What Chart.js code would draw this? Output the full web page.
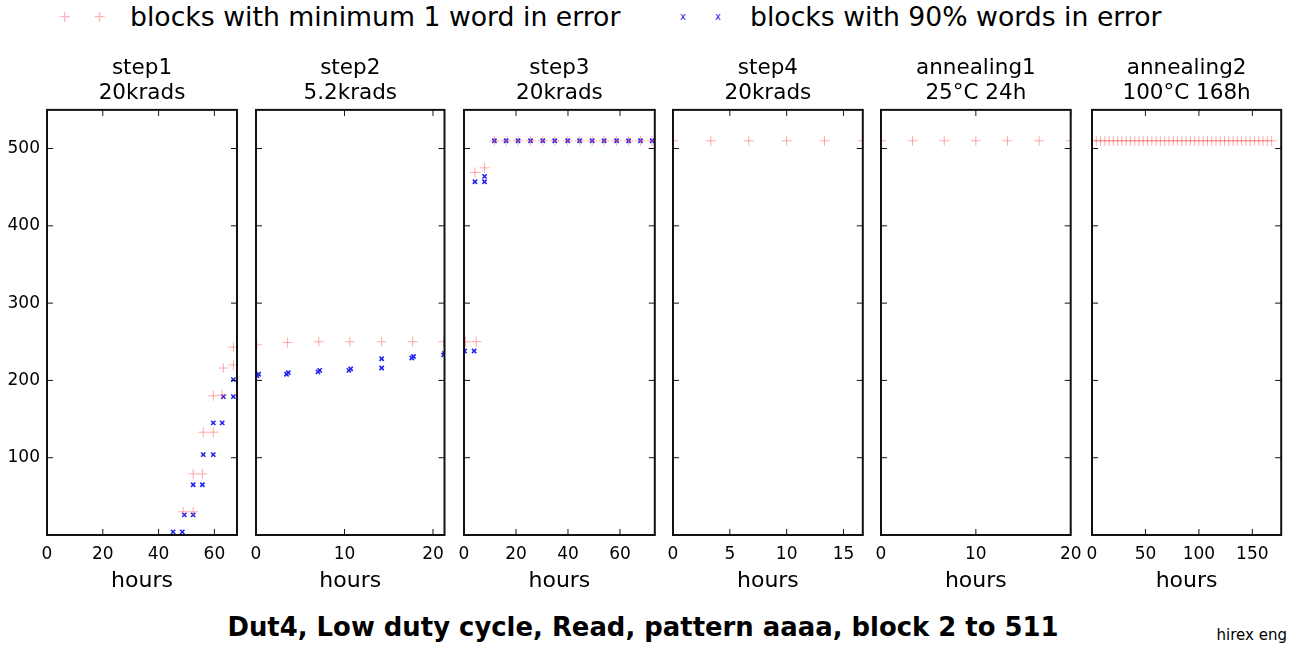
<!DOCTYPE html>
<html>
<head>
<meta charset="utf-8">
<script src="https://cdn.jsdelivr.net/npm/chart.js@4.4.1/dist/chart.umd.min.js"></script>
<style>
  body { margin: 0; background: #fff; font-family: "DejaVu Sans", sans-serif; }
  #wrap { position: relative; width: 1289px; height: 645px; overflow: hidden; }
  #wrap canvas { position: absolute; }
  .lbl { position: absolute; white-space: nowrap; color: #000; }
</style>
</head>
<body>
<div id="wrap">
  <span class="lbl" style="left:58px; top:3px; font-size:16px; line-height:28px; color:rgba(255,90,90,0.45)">+</span>
  <span class="lbl" style="left:93px; top:3px; font-size:16px; line-height:28px; color:rgba(255,90,90,0.45)">+</span>
  <span class="lbl" style="left:130px; top:2px; font-size:26.7px; line-height:30px">blocks with minimum 1 word in error</span>
  <span class="lbl" style="left:680px; top:3px; font-size:10px; line-height:28px; color:#2222ee">x</span>
  <span class="lbl" style="left:715px; top:3px; font-size:10px; line-height:28px; color:#2222ee">x</span>
  <span class="lbl" style="left:750px; top:2px; font-size:26.7px; line-height:30px">blocks with 90% words in error</span>
  <div class="lbl" style="left:0; top:611px; width:1286px; text-align:center; font-size:25.9px; font-weight:bold; line-height:32px">Dut4, Low duty cycle, Read, pattern aaaa, block 2 to 511</div>
  <span class="lbl" style="right:2px; top:626px; font-size:15px; line-height:18px">hirex eng</span>
</div>
<script>
// panel titles and axis ranges
const panelTitles = [
  ['step1', '20krads'],
  ['step2', '5.2krads'],
  ['step3', '20krads'],
  ['step4', '20krads'],
  ['annealing1', '25°C 24h'],
  ['annealing2', '100°C 168h']
];
const xMax = [68.1, 21.3, 73.4, 16.7, 20, 177];
const xTickValues = [[0, 20, 40, 60], [0, 10, 20], [0, 20, 40, 60], [0, 5, 10, 15], [0, 10, 20], [0, 50, 100, 150]];
const yTicks = [100, 200, 300, 400, 500];

// blocks with minimum 1 word in error
const minHours1 = [48.8, 52.4, 52.4, 55.7, 56.0, 59.6, 59.6, 62.8, 63.2, 66.8, 66.8];
const minBlocks1 = [30, 30, 79, 79, 133, 133, 180, 181, 216, 220, 243];
const minHours2 = [0.1, 3.55, 7.1, 10.6, 14.2, 17.7, 21.2];
const minBlocks2 = [246, 249, 250, 250, 250, 250, 250];
const minHours3 = [0.6, 4.7, 4.2, 7.9, 11.7, 16.2, 20.8, 25.6, 30.3, 34.9, 39.9, 44.5, 49.3, 53.9, 58.7, 63.3, 67.9, 72.4];
const minBlocks3 = [250, 250, 469, 475, 510, 510, 510, 510, 510, 510, 510, 510, 510, 510, 510, 510, 510, 510];
const minHours4 = [0, 3.33, 6.67, 10, 13.33, 16.67];
const minBlocks4 = [510, 510, 510, 510, 510, 510];
const minHours5 = [0, 3.33, 6.67, 10, 13.33, 16.67, 20];
const minBlocks5 = [510, 510, 510, 510, 510, 510, 510];
const minHours6 = [0, 4, 8, 12, 16, 20, 24, 28, 32, 36, 40, 44, 48, 52, 56, 60, 64, 68, 72, 76, 80, 84,
  88, 92, 96, 100, 104, 108, 112, 116, 120, 124, 128, 132, 136, 140, 144, 148, 152, 156, 160, 164, 168];
const minBlocks6 = [510, 510, 510, 510, 510, 510, 510, 510, 510, 510, 510, 510, 510, 510, 510, 510, 510, 510,
  510, 510, 510, 510, 510, 510, 510, 510, 510, 510, 510, 510, 510, 510, 510, 510, 510, 510, 510, 510, 510,
  510, 510, 510, 510];

// blocks with 90% words in error
const ninetyHours1 = [45.2, 48.5, 49.2, 52.4, 52.4, 55.7, 56.0, 59.6, 59.6, 62.8, 63.2, 66.8, 66.8];
const ninetyBlocks1 = [4, 4, 26, 26, 65, 65, 104, 104, 145, 145, 179, 179, 201];
const ninetyHours2 = [0.1, 0.3, 3.45, 3.65, 7.0, 7.2, 10.5, 10.7, 14.2, 14.2, 17.6, 17.8, 21.2, 21.3];
const ninetyBlocks2 = [206, 208, 208, 210, 211, 213, 213, 215, 216, 228, 229, 231, 233, 235];
const ninetyHours3 = [0.2, 3.9, 4.2, 7.9, 7.9, 11.7, 16.2, 20.8, 25.6, 30.3, 34.9, 39.9, 44.5, 49.3, 53.9, 58.7, 63.3, 67.9, 72.4];
const ninetyBlocks3 = [238, 238, 457, 457, 464, 510, 510, 510, 510, 510, 510, 510, 510, 510, 510, 510, 510, 510, 510];

const minSeries = [[minHours1, minBlocks1], [minHours2, minBlocks2], [minHours3, minBlocks3],
  [minHours4, minBlocks4], [minHours5, minBlocks5], [minHours6, minBlocks6]];
const ninetySeries = [[ninetyHours1, ninetyBlocks1], [ninetyHours2, ninetyBlocks2], [ninetyHours3, ninetyBlocks3],
  [[], []], [[], []], [[], []]];

// layout of the plot boxes in the page
const plotLeft = [47, 256, 463.5, 672.5, 881, 1091.5];
const plotRight = [237, 444.5, 654.3, 862.3, 1070.7, 1280.7];
const FONT = '"DejaVu Sans", sans-serif';

const toPoints = (xs, ys) => xs.map((x, i) => ({x: x, y: ys[i]}));

// matplotlib style frame with inward ticks on all four sides
const framePlugin = {
  id: 'frame',
  afterDatasetsDraw(chart) {
    const {ctx, chartArea: a, scales: {x, y}} = chart;
    ctx.save();
    ctx.strokeStyle = '#111';
    ctx.lineWidth = 1;
    ctx.beginPath();
    x.ticks.forEach(t => {
      const px = x.getPixelForValue(t.value);
      ctx.moveTo(px, a.bottom); ctx.lineTo(px, a.bottom - 6);
      ctx.moveTo(px, a.top); ctx.lineTo(px, a.top + 6);
    });
    y.ticks.forEach(t => {
      const py = y.getPixelForValue(t.value);
      ctx.moveTo(a.left, py); ctx.lineTo(a.left + 6, py);
      ctx.moveTo(a.right, py); ctx.lineTo(a.right - 6, py);
    });
    ctx.stroke();
    ctx.lineWidth = 2;
    ctx.strokeRect(a.left, a.top, a.right - a.left, a.bottom - a.top);
    ctx.restore();
  }
};

const wrap = document.getElementById('wrap');
const TOP = 50, HEIGHT = 550, RIGHT_PAD = 14;

panelTitles.forEach((title, i) => {
  const yWidth = i === 0 ? plotLeft[0] : 14;
  const left = plotLeft[i] - yWidth;
  const width = Math.ceil(plotRight[i] - left + RIGHT_PAD);
  const canvas = document.createElement('canvas');
  canvas.width = width;
  canvas.height = HEIGHT;
  canvas.style.left = left + 'px';
  canvas.style.top = TOP + 'px';
  wrap.appendChild(canvas);
  const padRight = width - (plotRight[i] - left);

  new Chart(canvas, {
    type: 'scatter',
    data: {
      datasets: [{
        label: 'blocks with minimum 1 word in error',
        data: toPoints(minSeries[i][0], minSeries[i][1]),
        pointStyle: 'cross',
        radius: 5,
        borderWidth: 1,
        borderColor: 'rgba(255,90,90,0.5)',
        backgroundColor: 'rgba(255,90,90,0.5)'
      }, {
        label: 'blocks with 90% words in error',
        data: toPoints(ninetySeries[i][0], ninetySeries[i][1]),
        pointStyle: 'crossRot',
        radius: 3,
        borderWidth: 1.6,
        borderColor: '#2222ee',
        backgroundColor: '#2222ee'
      }]
    },
    options: {
      responsive: false,
      animation: false,
      layout: {padding: {left: 0, right: padRight, top: 0, bottom: 0}},
      plugins: {
        legend: {display: false},
        tooltip: {enabled: false},
        title: {
          display: true,
          fullSize: false,
          text: title,
          color: '#000',
          font: {family: FONT, size: 21.5, weight: 'normal', lineHeight: 1.16},
          padding: {top: 6, bottom: 4}
        }
      },
      scales: {
        x: {
          type: 'linear',
          min: 0,
          max: xMax[i],
          grid: {display: false, drawTicks: false},
          border: {display: false},
          ticks: {autoSkip: false, color: '#000', padding: 9, maxRotation: 0,
            font: {family: FONT, size: 17}},
          title: {display: true, text: 'hours', color: '#000',
            font: {family: FONT, size: 22}, padding: {top: 0, bottom: 6}},
          afterBuildTicks: s => { s.ticks = xTickValues[i].map(v => ({value: v})); },
          afterFit: s => { s.height = 65; s.paddingLeft = 0; s.paddingRight = 0; }
        },
        y: {
          type: 'linear',
          min: 0,
          max: 550,
          grid: {display: false, drawTicks: false},
          border: {display: false},
          ticks: {display: i === 0, autoSkip: false, color: '#000', padding: 7,
            font: {family: FONT, size: 17}},
          afterBuildTicks: s => { s.ticks = yTicks.map(v => ({value: v})); },
          afterFit: s => { s.width = yWidth; s.paddingTop = 0; s.paddingBottom = 0; }
        }
      }
    },
    plugins: [framePlugin]
  });
});
</script>
</body>
</html>
